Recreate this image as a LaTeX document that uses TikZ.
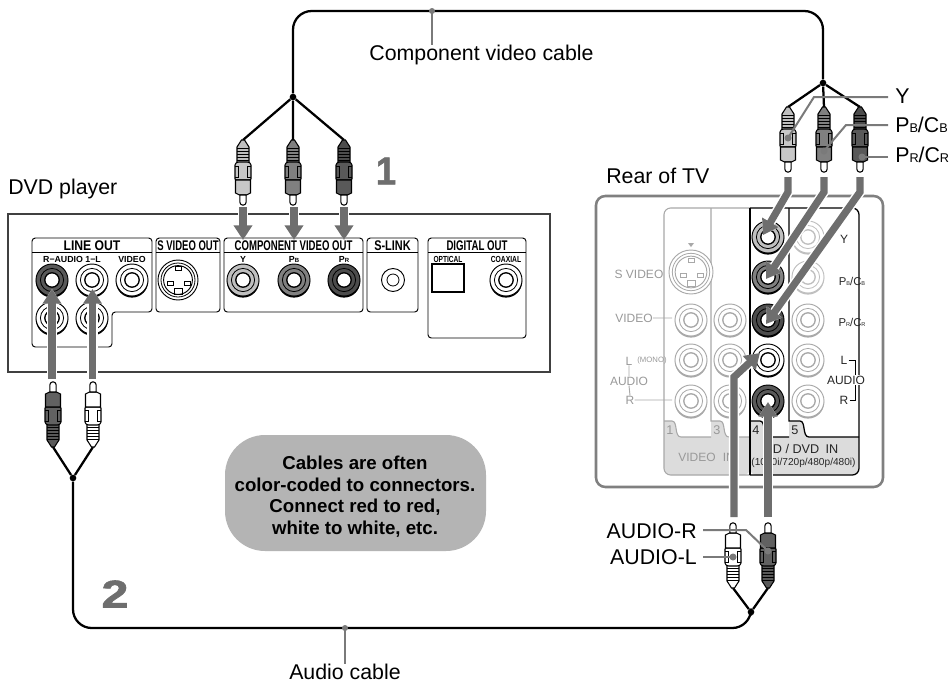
\documentclass[tikz,border=0pt]{standalone}
\usepackage{fontspec}
\setmainfont{Liberation Sans}
\newfontfamily\numfont[FakeBold=1.6]{Liberation Sans Bold}
\usetikzlibrary{arrows.meta}
\definecolor{arrowgray}{HTML}{6E6E6E}
\definecolor{leadgray}{HTML}{7A7A7A}
\definecolor{paneldim}{HTML}{A8A8A8}
\definecolor{banddim}{HTML}{DCDCDC}
\definecolor{bubble}{HTML}{B4B4B4}
\definecolor{boxline}{HTML}{404040}
\definecolor{tvline}{HTML}{808080}
\definecolor{dimtext}{HTML}{999999}
\newcommand{\cnd}[2]{\scalebox{#1}[1]{#2}}
\newcommand{\subsm}[1]{{\fontsize{9.5}{10}\selectfont #1}}
\tikzset{
  x=.75pt,y=-.75pt,
  cable/.style={draw=black,line width=1.7pt,line join=round},
  bigcable/.style={cable,rounded corners=14pt},
  hubdot/.style={circle,fill=black,inner sep=0pt,minimum size=5pt},
  pointer/.style={draw=arrowgray,line width=5.4pt,line join=miter,
    -{Triangle[width=13.5pt,length=11pt]},
    preaction={draw=white,line width=7.6pt}},
  leader/.style={draw=leadgray,line width=1.5pt},
  ldot/.style={fill=leadgray},
  lab/.style={font=\fontsize{16}{18}\selectfont,inner sep=0pt,text=black},
  panel/.style={draw=black,line width=.7pt,rounded corners=2.5pt},
  head/.style={font=\bfseries\fontsize{10.5}{12}\selectfont,inner sep=0pt},
  sub/.style={font=\bfseries\fontsize{6.6}{8}\selectfont,inner sep=0pt},
  dim/.style={font=\fontsize{#1}{#1}\selectfont,inner sep=0pt,text=dimtext},
  dim/.default=9,
  tvt/.style={font=\fontsize{#1}{#1}\selectfont,inner sep=0pt,text=black!85},
  tvt/.default=9,
  bignum/.style={font=\numfont\fontsize{29}{30}\selectfont,inner sep=0pt,text=arrowgray},
  pics/jack/.style 2 args={code={
    \fill[#2] (0,1.4) circle (16.2);
    \draw[#2,fill=#1,line width=.7pt] (0,0) circle (16);
    \draw[#2,line width=.6pt] (0,0) circle (11.6);
    \draw[#2,fill=white,line width=1pt] (0,0) circle (7.2);
  }},
  pics/svjack/.style 2 args={code={
    \draw[#1,fill=white,line width=.7pt] (0,0) circle (#2);
    \draw[#1,line width=.6pt] (0,0) circle (#2*.85);
    \draw[#1,line width=.7pt] (0,0) circle (#2*.72);
    \foreach \p in {(-8,3),(9,3),(0,-12)}{\draw[#1,line width=.7pt] \p ++(-3,-2) rectangle ++(6,4);}
    \draw[#1,line width=.7pt] (-4,8) rectangle (4,14);
  }},
  pics/plug/.style 2 args={code={
    \draw[black,fill=#1,line width=.8pt] (-1.5,0) -- (-6,7) -- (-6,23) -- (6,23) -- (6,7) -- (1.5,0) -- cycle;
    \foreach \yy in {8,11,14,17,20}{\draw[black,line width=.7pt] (-6,\yy) -- (6,\yy);}
    \draw[black,fill=#2,line width=.8pt,rounded corners=.8pt] (-8,40) -- (-8,24) -- (-5.5,22) -- (5.5,22) -- (8,24) -- (8,40) -- cycle;
    \draw[black,line width=.7pt] (-8,26) -- (-4.5,26) -- (-4.5,37) -- (-8,37) (8,26) -- (4.5,26) -- (4.5,37) -- (8,37);
    \draw[black,fill=#2,line width=.8pt] (-7.5,40) -- (-7.5,53) -- (-3.5,55) -- (3.5,55) -- (7.5,53) -- (7.5,40) -- cycle;
    \draw[black,fill=white,line width=.8pt] (-3.2,55) -- (-3.2,62) arc[start angle=180,end angle=0,x radius=3.2,y radius=3.2] -- (3.2,55) -- cycle;
  }}
}
\begin{document}
\begin{tikzpicture}
\useasboundingbox (0,0) rectangle (951,683);
\fill[white] (0,0) rectangle (951,683);

% ---- coordinates
\node[hubdot] (hubA) at (293,97) {};
\node[hubdot] (hubB) at (823,83) {};
\node[hubdot] (hubC) at (73,478) {};
\node[hubdot] (hubD) at (751,612) {};
\coordinate (pa1) at (243,140); \coordinate (pa2) at (293,140); \coordinate (pa3) at (344,140);
\coordinate (pb1) at (788,107); \coordinate (pb2) at (824,107); \coordinate (pb3) at (860,107);
\coordinate (pc1) at (53,447); \coordinate (pc2) at (93,447);
\coordinate (pd1) at (733,588); \coordinate (pd2) at (768,588);
\coordinate (topA) at (293,11); \coordinate (topB) at (823,11);
\coordinate (botC) at (73,628); \coordinate (botD) at (751,628);

% ---- DVD player
\draw[boxline,line width=.95pt] (8,214) rectangle (550,372);
\draw[panel] (32,238) -- (152,238) -- (152,312) -- (112,312) -- (112,347) -- (32,347) -- cycle;
\draw[panel] (156,238) rectangle (220,312);
\draw[panel] (224,238) rectangle (363,312);
\draw[panel] (367,238) rectangle (418,312);
\draw[panel] (428,238) rectangle (526,338);
\draw[black,line width=.7pt] (32,252) -- (152,252) (156,252) -- (220,252) (224,252) -- (363,252) (367,252) -- (418,252) (428,252) -- (526,252);
\node[head] (tLine) at (92,245.5) {\cnd{.87}{LINE OUT}};
\node[head] (tSv) at (188,245.5) {\cnd{.68}{S VIDEO OUT}};
\node[head] (tComp) at (293.5,245.5) {\cnd{.685}{COMPONENT VIDEO OUT}};
\node[head] (tSl) at (392.5,245.5) {\cnd{.78}{S-LINK}};
\node[head] (tDig) at (477,245.5) {\cnd{.69}{DIGITAL OUT}};
\node[sub] (tRa) at (72,259.5) {R−AUDIO 1−L};
\node[sub] (tVi) at (132,259.5) {VIDEO};
\node[sub] (tY) at (243,259.5) {Y};
\node[sub] (tPb) at (294,259.5) {P{\fontsize{4.5}{5}\selectfont B}};
\node[sub] (tPr) at (344,259.5) {P{\fontsize{4.5}{5}\selectfont R}};
\node[sub] (tOp) at (448,259.5) {\cnd{.75}{OPTICAL}};
\node[sub] (tCo) at (506,259.5) {\cnd{.77}{COAXIAL}};
\draw[black,line width=.9pt] (432,264) rectangle (464,292);

\pic at (52,280) {jack={black!65}{black}};
\pic at (92,280) {jack={white}{black}};
\pic at (132,280) {jack={white}{black}};
\pic at (52,318) {jack={white}{black}};
\pic at (92,318) {jack={white}{black}};
\pic at (243,280) {jack={black!25}{black}};
\pic at (294,280) {jack={black!50}{black}};
\pic at (344,280) {jack={black!70}{black}};
\pic at (506,280) {jack={white}{black}};
\draw[black,fill=white,line width=.7pt] (393,280) circle (11.5);
\draw[black,line width=.6pt] (393,280) circle (6);
\pic at (178,280) {svjack={black}{20}};

% ---- TV
\draw[tvline,line width=1.9pt,rounded corners=7pt] (596,196) rectangle (883,487);
\fill[banddim,rounded corners=5pt] (664,440) -- (664,475) -- (750,475) -- (750,440) -- cycle;
\fill[banddim] (664,421) -- (672,421) .. controls (678,421) and (674,437) .. (681,437) -- (711,437) -- (711,421) -- (720,421) .. controls (726,421) and (722,437) .. (729,437) -- (750,437) -- (750,445) -- (664,445) -- cycle;
\fill[banddim,rounded corners=5pt] (750,440) -- (750,475) -- (859,475) -- (859,440) -- cycle;
\fill[banddim] (750,421) -- (760,421) .. controls (766,421) and (762,437) .. (769,437) -- (789,437) -- (789,421) -- (800,421) .. controls (806,421) and (802,437) .. (809,437) -- (859,437) -- (859,445) -- (750,445) -- cycle;
\draw[paneldim,line width=.8pt,rounded corners=5pt] (750,208) -- (664,208) -- (664,475) -- (750,475);
\draw[paneldim,line width=.8pt] (711,208) -- (711,421) -- (720,421) .. controls (726,421) and (722,437) .. (729,437) -- (750,437);
\draw[paneldim,line width=.8pt] (664,421) -- (672,421) .. controls (678,421) and (674,437) .. (681,437) -- (711,437);
\draw[black,line width=.95pt,rounded corners=5pt] (750,475) -- (859,475) -- (859,208) -- (750,208);
\draw[black,line width=.95pt] (750,208) -- (750,475);
\draw[black,line width=.95pt] (789,208) -- (789,421) -- (800,421) .. controls (806,421) and (802,437) .. (809,437) -- (859,437);
\draw[black,line width=.95pt] (750,421) -- (760,421) .. controls (766,421) and (762,437) .. (769,437) -- (789,437);

\node[dim] (tSV) at (639,274) {S VIDEO};
\node[dim] (tVd) at (634,318) {VIDEO};
\node[dim] (tL) at (629,361) {L};
\node[dim=5.8] (tMo) at (652,360) {(MONO)};
\node[dim] (tAu) at (629,381) {AUDIO};
\node[dim] (tR) at (630,400) {R};
\coordinate (jv) at (672,318); \coordinate (jr) at (672,400);
\draw[paneldim,line width=.7pt] (tVd.east) -- (jv) (tR.east) -- (jr) (tL.south) -- (tAu.north) (tAu.south) -- (tR.north);
\fill[paneldim] (688,243) -- (694,243) -- (691,247) -- cycle;
\pic at (691,272) {svjack={paneldim}{22}};
\foreach \xx in {691,730}{\foreach \yy in {320,360,401}{\pic at (\xx,\yy) {jack={white}{paneldim}};}}
\pic at (808,237) {jack={white}{black!25}};
\pic at (808,277) {jack={white}{black!25}};
\foreach \yy in {320,360,401}{\pic at (808,\yy) {jack={white}{paneldim}};}
\pic at (768,237) {jack={black!25}{black}};
\pic at (768,277) {jack={black!50}{black}};
\pic at (768,320) {jack={black!70}{black}};
\pic at (768,360) {jack={white}{black}};
\pic at (768,401) {jack={black!65}{black}};

\node[tvt] (tvY) at (844,239) {Y};
\node[tvt=8.5] (tvB) at (852,281) {P{\fontsize{4.2}{5}\selectfont B}/C{\fontsize{4.2}{5}\selectfont B}};
\node[tvt=8.5] (tvR) at (852,322) {P{\fontsize{4.2}{5}\selectfont R}/C{\fontsize{4.2}{5}\selectfont R}};
\node[tvt] (tvL) at (844,360) {L};
\node[tvt,fill=white,inner sep=.5pt] (tvA) at (846,380) {AUDIO};
\node[tvt] (tvRr) at (844,400) {R};
\draw[black,line width=.6pt] (tvL.east) ++(1,0) -| (tvA.north -| 855,0);
\draw[black,line width=.6pt] (tvRr.east) ++(1,0) -| (tvA.south -| 855,0);
\node[dim=9.5] (t1) at (670,430) {1};
\node[dim=9.5] (t3) at (717,430) {3};
\node[tvt=9.5] (t4) at (756,430) {4};
\node[tvt=9.5] (t5) at (795,430) {5};
\node[dim,anchor=west] (tVin) at (678,457) {VIDEO\hspace{.6em}IN};
\node[tvt=9.5] (tHd) at (801,449) {HD / DVD\hspace{.5em}IN};
\node[tvt=7.6] (tRes) at (803.5,463) {(1080i/720p/480p/480i)};

% ---- bubble
\node[fill=bubble,rounded corners=30pt,minimum width=195.75pt,minimum height=87pt,inner sep=0pt] (note) at (355.5,493) {};
\node[align=center,font=\bfseries\fontsize{14}{16.2}\selectfont,inner sep=0pt] (noteT) at (355,496.5) {Cables are often\\color-coded to connectors.\\Connect red to red,\\white to white, etc.};

% ---- pointers
\coordinate (aA1) at (243,207); \coordinate (aA1e) at (243,240);
\coordinate (aA2) at (294,207); \coordinate (aA2e) at (294,240);
\coordinate (aA3) at (344,207); \coordinate (aA3e) at (344,240);
\draw[pointer] (aA1) -- (aA1e);
\draw[pointer] (aA2) -- (aA2e);
\draw[pointer] (aA3) -- (aA3e);
\coordinate (aC1) at (52,379); \coordinate (aC1e) at (52,289);
\coordinate (aC2) at (92.5,379); \coordinate (aC2e) at (92.5,289);
\draw[pointer] (aC1) -- (aC1e);
\draw[pointer] (aC2) -- (aC2e);
\coordinate (b1) at (788,177); \coordinate (b1m) at (788,192); \coordinate (b1e) at (763,235);
\coordinate (b2) at (824,177); \coordinate (b2m) at (824,192); \coordinate (b2e) at (766,279);
\coordinate (b3) at (860,177); \coordinate (b3m) at (860,192); \coordinate (b3e) at (766,324);
\draw[pointer] (b1) -- (b1m) -- (b1e);
\draw[pointer] (b2) -- (b2m) -- (b2e);
\draw[pointer] (b3) -- (b3m) -- (b3e);
\coordinate (d1) at (734,517); \coordinate (d1m) at (734,377); \coordinate (d1e) at (760,353);
\coordinate (d2) at (768,517); \coordinate (d2e) at (768,402);
\draw[pointer] (d1) -- (d1m) -- (d1e);
\draw[pointer] (d2) -- (d2e);

% ---- cables
\draw[bigcable] (hubA) -- (topA) -- (topB) -- (hubB);
\draw[bigcable] (hubC) -- (botC) -- (botD) -- (hubD);
\draw[cable] (hubA) -- (pa1) (hubA) -- (pa2) (hubA) -- (pa3);
\draw[cable] (hubB) -- (pb1) (hubB) -- (pb2) (hubB) -- (pb3);
\draw[cable] (hubC) -- (pc1) (hubC) -- (pc2);
\draw[cable] (hubD) -- (pd1) (hubD) -- (pd2);

% ---- plugs
\pic at (pa1) {plug={black!25}{black!22}};
\pic at (pa2) {plug={black!50}{black!50}};
\pic at (pa3) {plug={black!70}{black!65}};
\pic at (pb1) {plug={black!25}{black!22}};
\pic at (pb2) {plug={black!50}{black!50}};
\pic at (pb3) {plug={black!70}{black!65}};
\pic[rotate=180] at (pc1) {plug={black!65}{black!62}};
\pic[rotate=180] at (pc2) {plug={white}{white}};
\pic[rotate=180] at (pd1) {plug={white}{white}};
\pic[rotate=180] at (pd2) {plug={black!65}{black!62}};

% ---- labels
\node[lab,anchor=west] (lDvd) at (8,189) {DVD player};
\node[lab,anchor=west] (lTv) at (606,176) {Rear of TV};
\node[lab] (lComp) at (481.5,55) {Component video cable};
\node[lab] (lAud) at (345,672) {Audio cable};
\node[lab,anchor=west] (lY) at (895,96) {Y};
\node[lab,anchor=west] (lB) at (895,125) {P\subsm{B}/C\subsm{B}};
\node[lab,anchor=west] (lR) at (895,155) {P\subsm{R}/C\subsm{R}};
\node[lab,anchor=east] (lAR) at (697,531) {AUDIO-R};
\node[lab,anchor=east] (lAL) at (697,557) {AUDIO-L};
\node[bignum] (n1) at (386,171) {\cnd{.95}{1}};
\node[bignum] (n2) at (115,594) {\cnd{1.25}{2}};

% ---- leaders
\coordinate (tc) at (432,11); \coordinate (ta) at (345,628);
\fill[ldot] (tc) circle (3);
\fill[ldot] (ta) circle (3);
\draw[leader] (tc) -- (tc |- lComp.north);
\draw[leader] (ta) -- (ta |- lAud.north);
\coordinate (dY) at (788,138); \coordinate (dB) at (824,151); \coordinate (dR) at (862,157);
\coordinate (dAR) at (768,551); \coordinate (dAL) at (733,557);
\foreach \d in {dY,dB,dR,dAR,dAL}{\fill[ldot] (\d) circle (3.5);}
\draw[leader] (888,97) -- (814,97) -- (dY);
\draw[leader] (888,125) -- (846,125) -- (dB);
\draw[leader] (888,157) -- (dR);
\draw[leader] (703,530) -- (746,530) -- (dAR);
\draw[leader] (703,557) -- (dAL);
\end{tikzpicture}
\end{document}
